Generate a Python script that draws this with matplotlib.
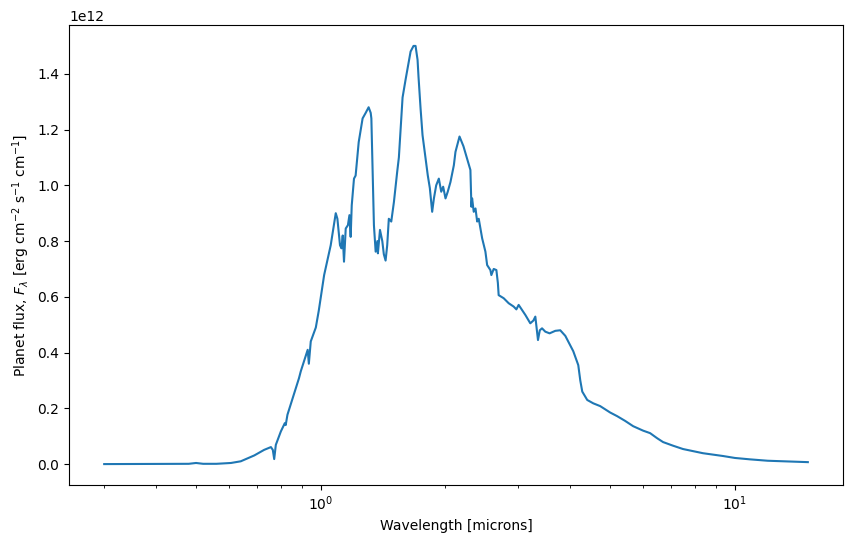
import matplotlib
matplotlib.use("Agg")
import matplotlib.pyplot as plt
import numpy as np

# Wavelength in microns
wavelength = [
    0.30, 0.40, 0.48, 0.50, 0.52, 0.56, 0.607, 0.641, 0.691, 0.730, 0.758, 0.766,
    0.772, 0.779, 0.801, 0.819, 0.823, 0.831, 0.886, 0.895, 0.930, 0.936, 0.946,
    0.973, 0.989, 1.019, 1.057, 1.087, 1.097, 1.113, 1.122, 1.130, 1.138, 1.149,
    1.163, 1.173, 1.181, 1.188, 1.203, 1.214, 1.235, 1.262, 1.284, 1.305, 1.320,
    1.325, 1.332, 1.344, 1.357, 1.370, 1.374, 1.390, 1.408, 1.420, 1.434, 1.447,
    1.460, 1.480, 1.502, 1.530, 1.544, 1.576, 1.603, 1.621, 1.648, 1.675, 1.694,
    1.713, 1.722, 1.742, 1.761, 1.791, 1.813, 1.834, 1.858, 1.876, 1.900, 1.928,
    1.954, 1.975, 2.001, 2.026, 2.057, 2.096, 2.115, 2.163, 2.211, 2.261, 2.298,
    2.311, 2.320, 2.341, 2.364, 2.386, 2.407, 2.453, 2.498, 2.522, 2.568, 2.582,
    2.616, 2.655, 2.677, 2.689, 2.765, 2.843, 2.923, 2.967, 3.005, 3.062, 3.119,
    3.206, 3.262, 3.297, 3.346, 3.380, 3.422, 3.485, 3.569, 3.684, 3.787, 3.895,
    3.959, 4.071, 4.186, 4.233, 4.280, 4.400, 4.549, 4.728, 4.998, 5.195, 5.431,
    5.679, 6.002, 6.241, 6.487, 6.707, 7.089, 7.494, 8.374, 9.357, 10.0, 10.87,
    12.0, 13.05, 15.0,
]

# Planet flux in units of 1e12 erg cm^-2 s^-1 cm^-1
flux_1e12 = [
    0.0, 0.0005, 0.001, 0.004, 0.001, 0.001, 0.004, 0.010, 0.031, 0.051, 0.061, 0.051,
    0.018, 0.069, 0.117, 0.147, 0.140, 0.177, 0.308, 0.333, 0.410, 0.360, 0.440,
    0.490, 0.550, 0.678, 0.785, 0.900, 0.880, 0.785, 0.774, 0.820, 0.726, 0.845,
    0.857, 0.893, 0.815, 0.928, 1.024, 1.035, 1.155, 1.240, 1.260, 1.280, 1.260,
    1.240, 1.096, 0.857, 0.762, 0.800, 0.756, 0.840, 0.800, 0.753, 0.730, 0.785,
    0.880, 0.870, 0.940, 1.050, 1.100, 1.315, 1.380, 1.420, 1.480, 1.500, 1.500,
    1.450, 1.390, 1.275, 1.180, 1.096, 1.036, 0.990, 0.905, 0.953, 1.000, 1.024,
    0.977, 0.995, 0.953, 0.977, 1.012, 1.072, 1.120, 1.175, 1.140, 1.090, 1.055,
    0.923, 0.953, 0.905, 0.917, 0.870, 0.880, 0.810, 0.762, 0.714, 0.696, 0.678,
    0.700, 0.696, 0.650, 0.606, 0.595, 0.577, 0.565, 0.555, 0.571, 0.553, 0.535,
    0.505, 0.515, 0.529, 0.445, 0.480, 0.487, 0.475, 0.469, 0.478, 0.480, 0.460,
    0.440, 0.405, 0.355, 0.300, 0.260, 0.230, 0.218, 0.208, 0.185, 0.172, 0.155,
    0.136, 0.120, 0.111, 0.093, 0.079, 0.066, 0.054, 0.039, 0.029, 0.022, 0.017,
    0.012, 0.010, 0.007,
]

flux = np.array(flux_1e12) * 1e12

fig = plt.figure(figsize=(8.53, 5.45), dpi=100)
ax = fig.add_axes([0.0809, 0.1101, 0.9074, 0.844])
ax.plot(wavelength, flux)
ax.set_xscale("log")
ax.set_xlabel("Wavelength [microns]")
ax.set_ylabel(r"Planet flux, $F_\lambda$ [erg cm$^{-2}$ s$^{-1}$ cm$^{-1}$]")
fig.savefig("out.png", dpi=100)
